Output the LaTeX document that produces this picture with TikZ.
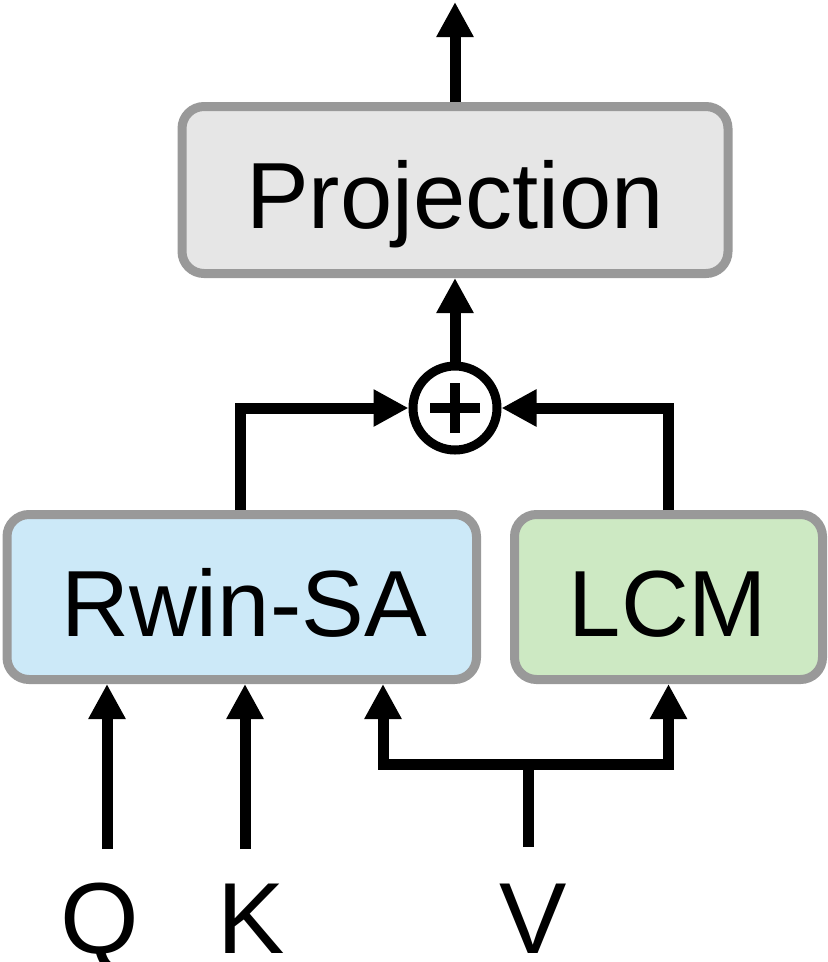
\documentclass[tikz,border=0pt]{standalone}
\usepackage{fontspec}
\setmainfont{Liberation Sans}
\usetikzlibrary{arrows.meta}
\definecolor{bordergray}{HTML}{999999}
\definecolor{projfill}{HTML}{E6E6E6}
\definecolor{rwinfill}{HTML}{CCE9F8}
\definecolor{lcmfill}{HTML}{CDE9C3}
\begin{document}
\begin{tikzpicture}[x=1pt,y=-1pt,
  box/.style={draw=bordergray, line width=9pt, rounded corners=22pt, inner sep=0pt},
  txt/.style={inner sep=0pt, anchor=base, font=\fontsize{94}{100}\selectfont},
  conn/.style={line width=11pt},
  arr/.style={conn, -{Triangle[width=35pt,length=35pt]}},
  lbl/.style={inner sep=0pt, anchor=base, font=\fontsize{101}{110}\selectfont}]
\useasboundingbox (0,0) rectangle (828,962);
% boxes
\node[box, fill=projfill, minimum width=546pt, minimum height=167pt] (proj) at (455,190) {};
\node[txt] (projtxt) at (455,228) {Projection};
\node[box, fill=rwinfill, minimum width=469.5pt, minimum height=165pt] (rwin) at (241.75,597) {};
\node[txt] (rwintxt) at (244,636) {Rwin-SA};
\node[box, fill=lcmfill, minimum width=308pt, minimum height=165pt] (lcm) at (668.5,597) {};
\node[txt] (lcmtxt) at (668,636) {LCM};
% adder
\node[draw, circle, line width=9pt, minimum size=84pt, inner sep=0pt] (plus) at (455,408) {};
\draw[line width=10pt] ([xshift=-25pt]plus.center) -- ([xshift=25pt]plus.center);
\draw[line width=10pt] ([yshift=-25pt]plus.center) -- ([yshift=25pt]plus.center);
% connectors
\coordinate (top) at (455,2);
\draw[arr] (proj.north) -- (top);
\draw[arr] (plus.north) -- (proj.south);
\coordinate (lj) at (240,408);
\draw[arr] (rwin.north -| lj) |- (plus.west);
\draw[arr] (lcm.north) |- (plus.east);
% inputs
\coordinate (qb) at (107,849);
\coordinate (kb) at (245,849);
\draw[arr] (qb) -- (rwin.south -| qb);
\draw[arr] (kb) -- (rwin.south -| kb);
\coordinate (vb) at (528,847);
\coordinate (vj) at (528,764);
\coordinate (vl) at (383,764);
\draw[conn] (vb) -- (vj);
\draw[arr] (vj) -| (rwin.south -| vl);
\draw[arr] (vj) -| (lcm.south);
% labels
\node[lbl] (q) at (100,953) {Q};
\node[lbl] (k) at (251,953) {K};
\node[lbl] (v) at (533,953) {V};
\end{tikzpicture}
\end{document}
